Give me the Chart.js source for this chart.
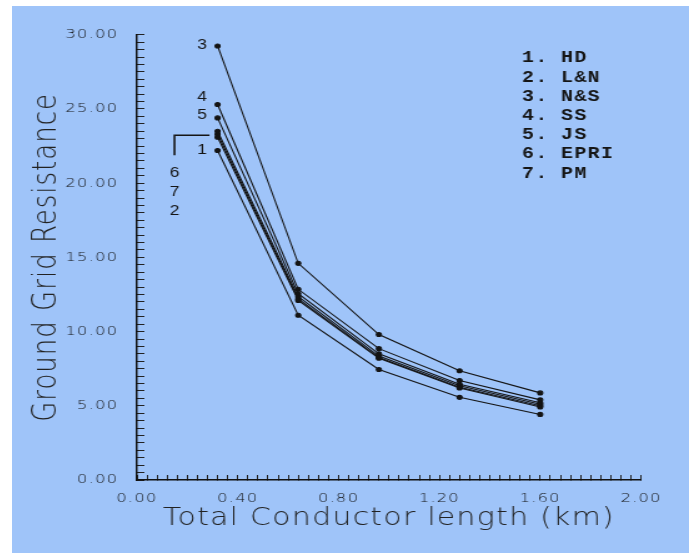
<!DOCTYPE html>
<html>
<head>
<meta charset="utf-8">
<script src="https://cdn.jsdelivr.net/npm/chart.js@4.4.1/dist/chart.umd.min.js"></script>
<style>
  html, body { margin: 0; padding: 0; background: #fff; }
  #panel { position: absolute; left: 12px; top: 6px; width: 677px; height: 547px; background: #9fc4f9; overflow: hidden; }
  /* el escaneo original esta estirado a lo ancho */
  #stretch { width: 542px; height: 547px; transform: scaleX(1.2491); transform-origin: 0 0; }
</style>
</head>
<body>
<div id="panel"><div id="stretch"><canvas id="grafico"></canvas></div></div>
<script>
// longitud total del conductor (km)
const longitudes = [0.32, 0.64, 0.96, 1.28, 1.60];
const metodos = ['HD', 'L&N', 'N&S', 'SS', 'JS', 'EPRI', 'PM'];

// resistencia de la malla por metodo
const hd   = [22.2, 11.1, 7.45, 5.57, 4.42];
const lyn  = [23.1, 12.1, 8.2, 6.2, 4.92];
const nys  = [29.25, 14.6, 9.8, 7.36, 5.87];
const ss   = [25.3, 12.85, 8.85, 6.7, 5.4];
const js   = [24.4, 12.55, 8.5, 6.45, 5.2];
const epri = [23.5, 12.35, 8.35, 6.35, 5.1];
const pm   = [23.3, 12.2, 8.25, 6.25, 5.0];

const etiquetasX = ['0.00', '0.40', '0.80', '1.20', '1.60', '2.00'];
const etiquetasY = ['0.00', '5.00', '10.00', '15.00', '20.00', '25.00', '30.00'];

const series = [hd, lyn, nys, ss, js, epri, pm];

const datasets = series.map((valores, i) => ({
    label: metodos[i],
    data: valores.map((v, j) => ({ x: longitudes[j], y: v })),
    borderColor: '#141414',
    backgroundColor: '#141414',
    borderWidth: 1.1,
    pointRadius: 2,
    pointStyle: 'circle',
    tension: 0
}));

// numeros junto a las curvas y la lista de metodos
const anotaciones = {
    id: 'anotaciones',
    beforeDraw(chart) {
        chart.ctx.letterSpacing = '1px';
    },
    afterDatasetsDraw(chart) {
        const { ctx, scales: { x, y }, chartArea } = chart;
        const x0 = x.getPixelForValue(longitudes[0]);
        ctx.save();
        ctx.fillStyle = '#151515';
        ctx.font = '14px "Liberation Sans"';
        ctx.textAlign = 'center';
        ctx.textBaseline = 'middle';
        ctx.fillText('3', x0 - 12, y.getPixelForValue(nys[0]) - 1);
        ctx.fillText('4', x0 - 12, y.getPixelForValue(ss[0]) - 7);
        ctx.fillText('5', x0 - 12, y.getPixelForValue(js[0]) - 3);
        ctx.fillText('1', x0 - 12, y.getPixelForValue(hd[0]));

        const yb = y.getPixelForValue(epri[0]) + 4;
        ctx.strokeStyle = '#151515';
        ctx.lineWidth = 1.6;
        ctx.beginPath();
        ctx.moveTo(x0 - 6.5, yb);
        ctx.lineTo(x0 - 34.5, yb);
        ctx.lineTo(x0 - 34.5, yb + 20);
        ctx.stroke();
        ['6', '7', '2'].forEach((t, i) => ctx.fillText(t, x0 - 34, yb + 38 + i * 19));

        ctx.font = 'bold 16px "Liberation Mono"';
        ctx.textAlign = 'left';
        metodos.forEach((m, i) => {
            const yy = chartArea.top + 23.5 + i * 19.2;
            ctx.fillText((i + 1) + '.', chartArea.right - 95.3, yy);
            ctx.fillText(m, chartArea.right - 64, yy);
        });
        ctx.restore();
    }
};

const fuente = 'DejaVu Sans';

new Chart(document.getElementById('grafico'), {
    type: 'line',
    data: { datasets: datasets },
    options: {
        responsive: true,
        maintainAspectRatio: false,
        animation: false,
        layout: { padding: { left: 0, top: 28, right: 38.4, bottom: 0 } },
        plugins: {
            legend: { display: false },
            tooltip: { enabled: false }
        },
        scales: {
            x: {
                type: 'linear',
                min: 0,
                max: 2,
                afterFit: s => { s.height = 73; },
                border: { display: true, color: '#111', width: 1.5 },
                grid: { drawOnChartArea: false, drawTicks: true, tickLength: -5, color: '#222', lineWidth: 1 },
                ticks: {
                    stepSize: 0.04,
                    maxTicksLimit: 60,
                    autoSkip: false,
                    maxRotation: 0,
                    padding: 16,
                    color: '#111',
                    font: { family: fuente, size: 13, weight: '200' },
                    callback: (v, i) => i % 10 === 0 ? etiquetasX[i / 10] : ''
                },
                title: {
                    display: true,
                    text: 'Total Conductor length (km)',
                    color: '#222',
                    font: { family: fuente, size: 24, weight: '200' },
                    padding: { top: 0, bottom: 20 }
                }
            },
            y: {
                min: 0,
                max: 30,
                afterFit: s => { s.width = 100; },
                border: { display: true, color: '#111', width: 1.5 },
                grid: { drawOnChartArea: false, drawTicks: true, tickLength: -6, color: '#222', lineWidth: 1 },
                ticks: {
                    stepSize: 0.5,
                    maxTicksLimit: 70,
                    autoSkip: false,
                    padding: 21,
                    color: '#111',
                    font: { family: fuente, size: 13, weight: '200' },
                    callback: (v, i) => i % 10 === 0 ? etiquetasY[i / 10] : ''
                },
                title: {
                    display: true,
                    text: 'Ground Grid Resistance',
                    color: '#222',
                    font: { family: fuente, size: 26, weight: '200' },
                    padding: { top: 13, bottom: 0 }
                }
            }
        }
    },
    plugins: [anotaciones]
});
</script>
</body>
</html>
